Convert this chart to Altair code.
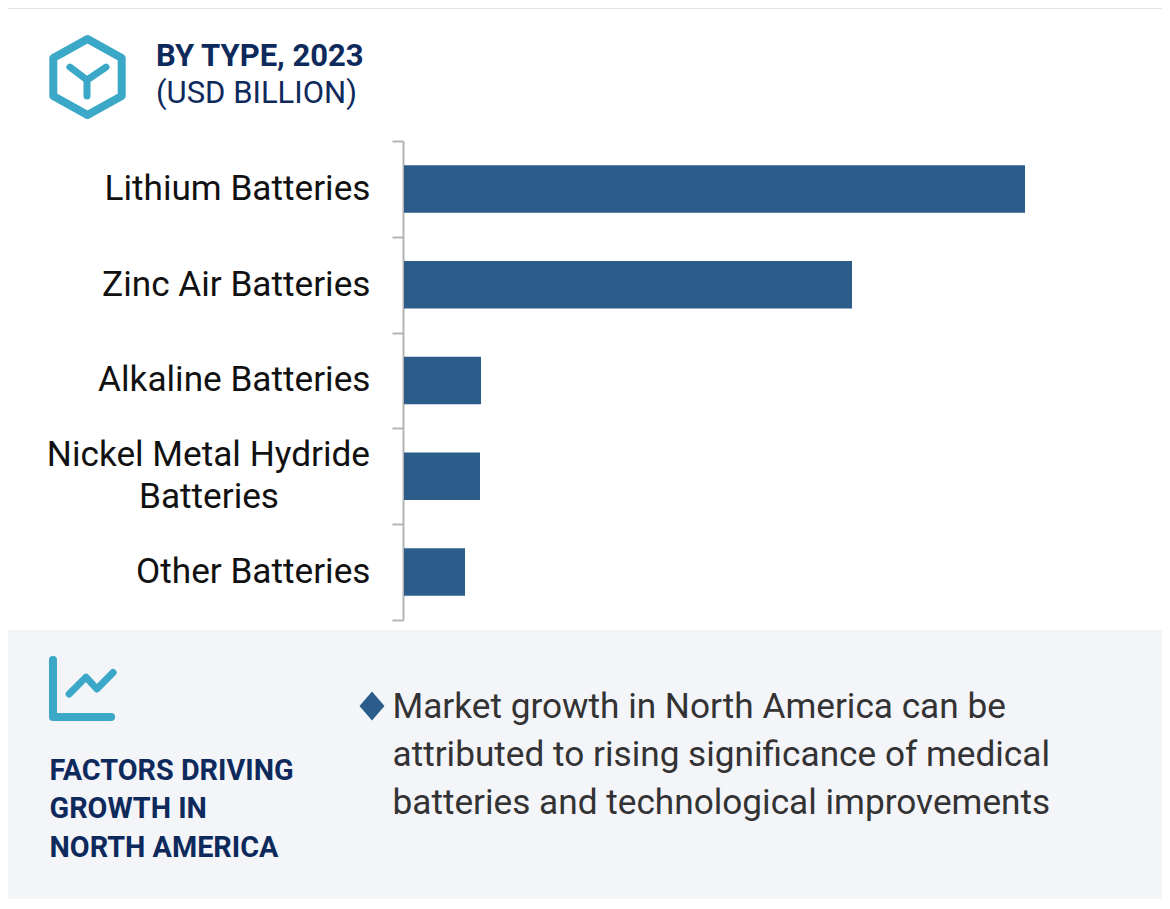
import altair as alt
import pandas as pd

categories = ["Lithium Batteries", "Zinc Air Batteries", "Alkaline Batteries",
              "Nickel Metal Hydride Batteries", "Other Batteries"]
values = [3.105, 2.24, 0.385, 0.38, 0.305]
wrapped_label = ["Nickel Metal Hydride", "Batteries"]
title_main = "BY TYPE, 2023"
title_unit = "(USD BILLION)"
factors = ["FACTORS DRIVING", "GROWTH IN", "NORTH AMERICA"]
bullet = ["Market growth in North America can be",
          "attributed to rising significance of medical",
          "batteries and technological improvements"]

NAVY = "#0e2a5c"
TEAL = "#3aa8c6"
BAR = "#2b5c8a"
FONT = "Roboto"
OFF = 8  # page margin
one = pd.DataFrame({"a": [0]})


def px(v):
    return alt.value(v - OFF)


def text(s, x, y, size, color, weight="normal", align="left"):
    return alt.Chart(pd.DataFrame({"t": [s]})).mark_text(
        font=FONT, fontSize=size, color=color, fontWeight=weight, align=align, baseline="alphabetic"
    ).encode(x=px(x), y=px(y), text="t:N")


def rect(x, x2, y, y2, color):
    return alt.Chart(one).mark_rect(color=color).encode(x=px(x), x2=px(x2), y=px(y), y2=px(y2))


def glyph(path, x, y, scale, color, width, filled=False):
    kw = dict(fill=color, stroke=color, strokeWidth=0, opacity=1) if filled else dict(
        fill=None, stroke=color, strokeWidth=width, strokeCap="round", strokeJoin="round", opacity=1)
    return alt.Chart(one).mark_point(shape=path, size=(2 * scale) ** 2, **kw).encode(x=px(x), y=px(y))


df = pd.DataFrame({"category": categories, "value": values})
yenc = alt.Y("category:N", sort=categories, title=None,
             scale=alt.Scale(range=[141 - OFF, 620 - OFF], paddingInner=0, paddingOuter=0),
             axis=alt.Axis(offset=-395, tickBand="extent", tickExtra=True, tickSize=11, tickWidth=2,
                           tickColor="#b4b4b4", domainColor="#b4b4b4", domainWidth=2, grid=False,
                           labelFont=FONT, labelFontSize=35.2, labelColor="#111111", labelPadding=22,
                           labelOffset=-0.7, labelLimit=0, labelOverlap=False,
                           labelExpr="datum.label == 'Nickel Metal Hydride Batteries' ? '' : datum.label"))
bars = alt.Chart(df).mark_bar(color=BAR, size=47.5).encode(
    x=alt.X("value:Q", axis=None, scale=alt.Scale(domain=[0, 3.105], range=[404 - OFF, 1025 - OFF])),
    y=yenc,
)

layers = [
    rect(8, 1162, 630, 899, "#f3f5f9"),
    rect(8, 1162, 8, 9, "#e3e5ec"),
    bars,
    text(wrapped_label[0], 370, 466, 35.2, "#111111", align="right"),
    text(wrapped_label[1], 209, 508, 35.2, "#111111", align="center"),
    text(title_main, 156, 66, 31, NAVY, "bold"),
    text(title_unit, 156, 103, 31, NAVY),
    glyph("M0,-1 L0.9,-0.5 L0.9,0.5 L0,1 L-0.9,0.5 L-0.9,-0.5 Z", 87.5, 77, 38, TEAL, 8),
    glyph("M-0.45,-0.34 L0,0 L0.5,-0.34 M0,0 L0,0.42", 87, 80, 38, TEAL, 7),
    glyph("M-0.94,-0.88 L-0.94,0.85 L0.82,0.85", 84, 689, 33, TEAL, 8),
    glyph("M-0.45,0.15 L0.06,-0.36 L0.39,0 L0.88,-0.5", 84, 689, 33, TEAL, 7),
    glyph("M0,-1 L0.86,0 L0,1 L-0.86,0 Z", 372, 706, 14.5, BAR, 0, filled=True),
]
for s, y in zip(factors, [780, 818, 857]):
    layers.append(text(s, 49.5, y, 28.8, NAVY, "bold"))
for s, y in zip(bullet, [718, 766, 814]):
    layers.append(text(s, 392.5, y, 35.2, "#333333"))

chart = alt.layer(*layers).resolve_scale(y="independent").properties(
    width=1154, height=893, padding=0, autosize=alt.AutoSizeParams(type="none"), background="white"
).configure_view(stroke=None)

chart.save("out.html", embed_options={"renderer": "svg", "actions": False})
